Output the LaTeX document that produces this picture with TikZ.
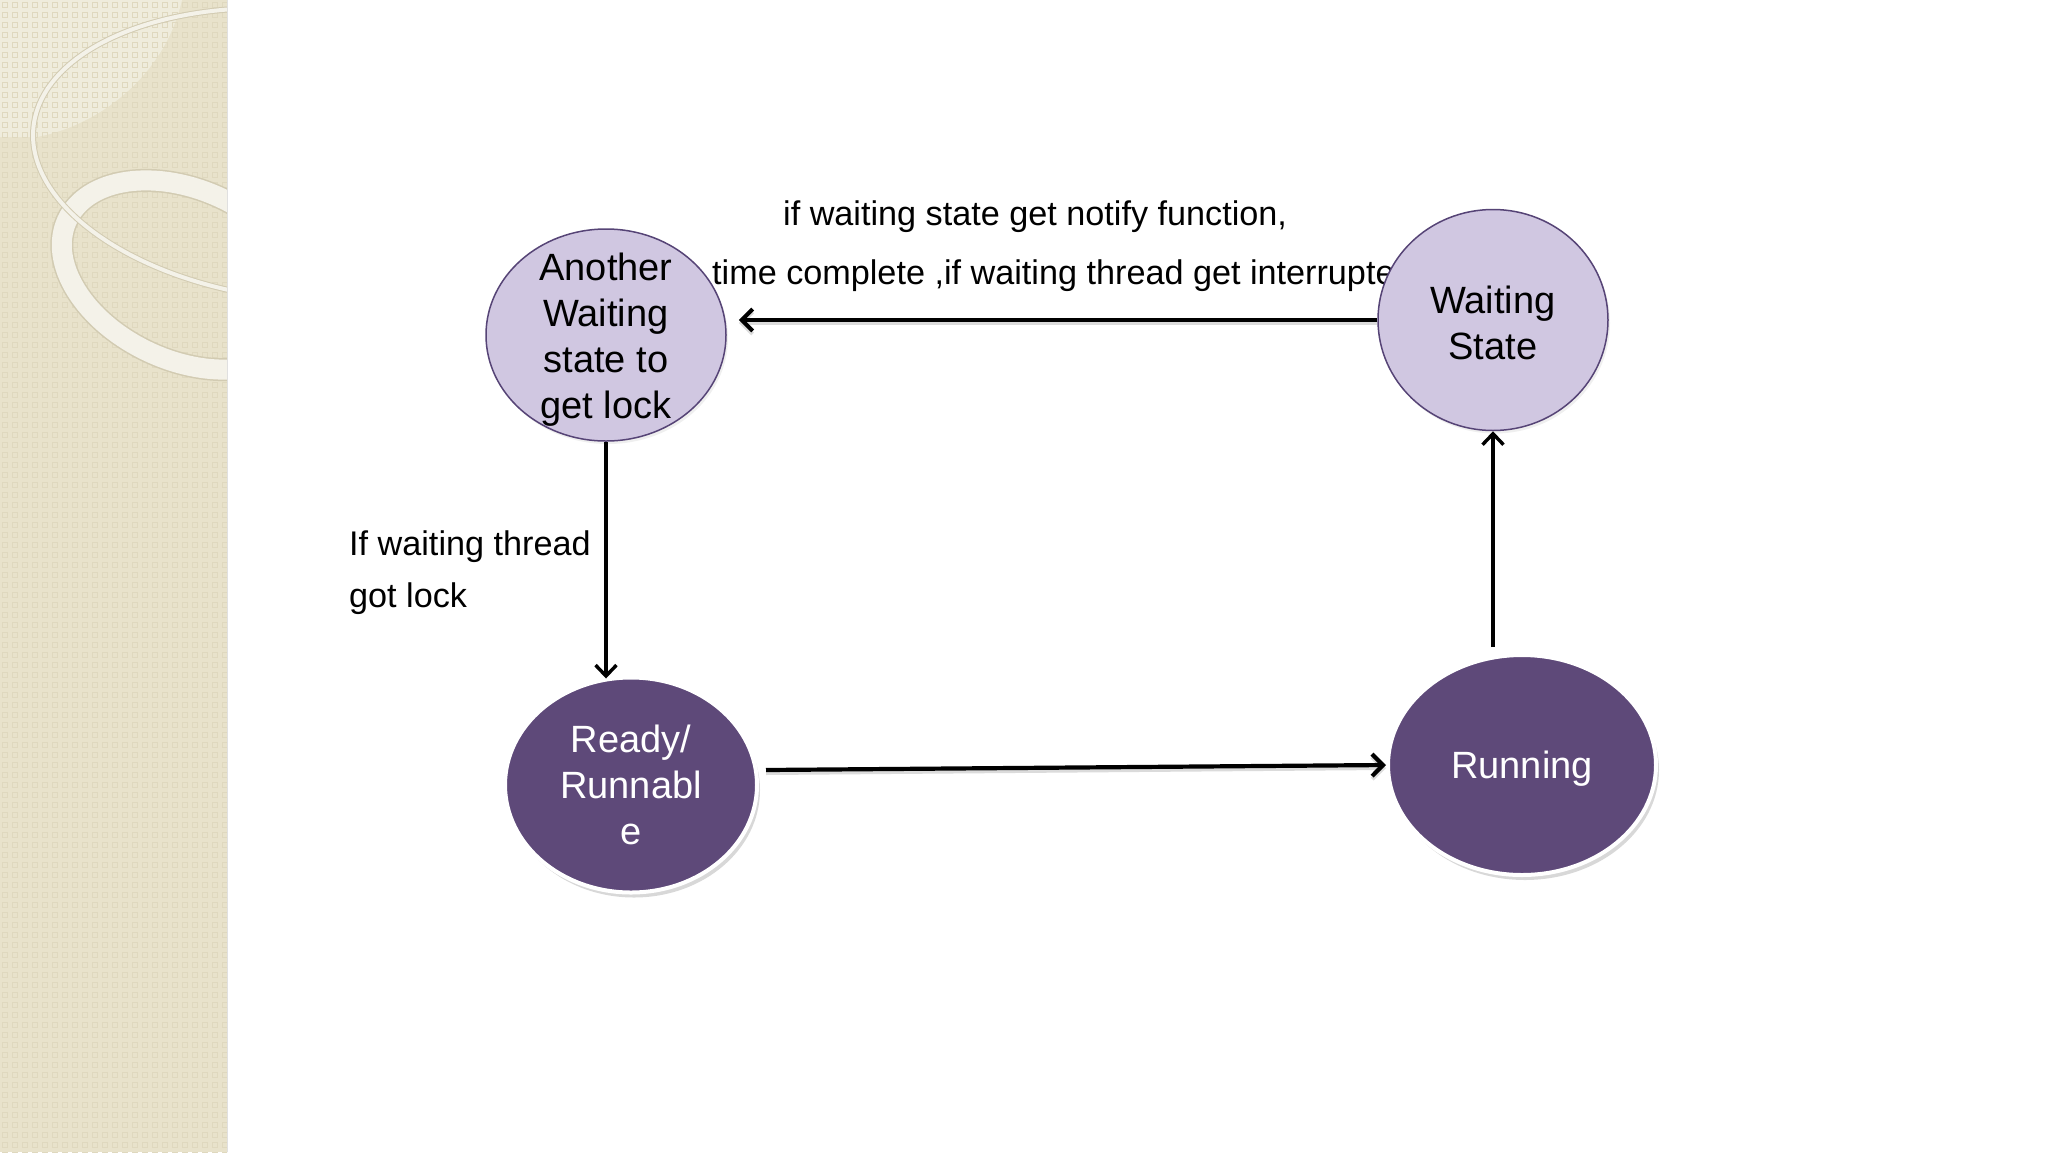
\documentclass[tikz,border=0pt]{standalone}
\usepackage{fontspec}
\setmainfont{Liberation Sans}
\usetikzlibrary{arrows.meta,shapes.geometric,shadows}
\definecolor{beige}{RGB}{232,226,203}
\definecolor{beigelight}{RGB}{239,236,220}
\definecolor{beigedot}{RGB}{223,216,190}
\definecolor{ringcol}{RGB}{244,242,233}
\definecolor{ringedge}{RGB}{210,203,178}
\definecolor{lav}{RGB}{208,199,225}
\definecolor{lavedge}{RGB}{86,68,118}
\definecolor{plum}{RGB}{94,73,121}
\begin{document}
\begin{tikzpicture}[x=1bp,y=-1bp,
  lightstate/.style={ellipse, draw=lavedge, line width=1.5bp, fill=lav, inner sep=0pt,
    align=center, font=\fontsize{38bp}{46bp}\selectfont, text=black,
    drop shadow={opacity=0.12, shadow xshift=2bp, shadow yshift=-3bp}},
  darkstate/.style={ellipse, draw=white, line width=4bp, fill=plum, inner sep=0pt,
    align=center, font=\fontsize{38bp}{46bp}\selectfont, text=white,
    drop shadow={opacity=0.3, shadow xshift=3bp, shadow yshift=-5bp}},
  flowthick/.style={draw=black, line width=4.2bp, -{Straight Barb[length=11bp,width=22bp]},
    preaction={draw=black!40, opacity=0.35, line width=4bp, transform canvas={yshift=-3bp}}},
  flowthin/.style={draw=black, line width=3.4bp, -{Straight Barb[length=11bp,width=21bp]}},
  lbl/.style={font=\fontsize{34.2bp}{40bp}\selectfont, inner sep=0pt, anchor=base west, text=black}]
\useasboundingbox (0,0) rectangle (2048,1152);
\fill[white] (0,0) rectangle (2048,1152);
% decorative left strip
\fill[beige] (0,0) rectangle (227,1152);
\begin{scope}
  \clip (0,0) rectangle (227,1152);
  \fill[beigelight] (0,0) -- (182,0) .. controls (165,75) and (100,125) .. (37,137) -- (0,137) -- cycle;
  \foreach \i in {0,...,22} {
    \foreach \j in {0,...,115} {
      \draw[beigedot, line width=0.8bp] (\i*10+2.5,\j*10+2.5) rectangle ++(5,5);
    }
  }
  \draw[ringedge, line width=23bp, rotate around={-25:(185,275)}] (185,275) ellipse [x radius=130, y radius=85];
  \draw[ringcol, line width=20bp, rotate around={-25:(185,275)}] (185,275) ellipse [x radius=130, y radius=85];
  \draw[ringedge, line width=6bp, rotate around={-6:(300,155)}] (300,155) ellipse [x radius=268, y radius=145];
  \draw[ringcol, line width=4bp, rotate around={-6:(300,155)}] (300,155) ellipse [x radius=268, y radius=145];
\end{scope}
\draw[black!12, line width=1bp] (227.5,0) -- (227.5,1152);
% labels
\node[lbl] (l1) at (783,225) {if waiting state get notify function,};
\node[lbl] (l2) at (712,284) {time complete ,if waiting thread get interrupte};
\node[lbl] (l3) at (349,555) {If waiting thread};
\node[lbl] (l4) at (349,607) {got lock};
% states
\node[lightstate, inner ysep=-20bp, minimum width=240bp, minimum height=212bp] (aw) at (606,335) {\rule{0pt}{36bp}Another\\Waiting\\state to\\get lock};
\node[lightstate, minimum width=230bp, minimum height=221bp] (ws) at (1493,320) {\rule{0pt}{34bp}Waiting\\State};
\node[darkstate, minimum width=252bp, minimum height=215bp] (rd) at (631,785) {Ready/\\Runnabl\\e};
\node[darkstate, minimum width=268bp, minimum height=220bp] (run) at (1522,765) {\rule{0pt}{34bp}Running};
% connectors
\draw[flowthick, shorten >=12bp] (ws.west) -- (ws.west -| aw.east);
\draw[flowthin, shorten >=-3bp] (aw.south) -- (aw.south |- rd.north);
\coordinate (rdout) at ([xshift=7bp,yshift=15bp]rd.east);
\draw[flowthick] (rdout) -- (run.west);
\coordinate (runtop) at ([yshift=6bp]run.north);
\draw[flowthin] (ws.south |- runtop) -- (ws.south);
\end{tikzpicture}
\end{document}
